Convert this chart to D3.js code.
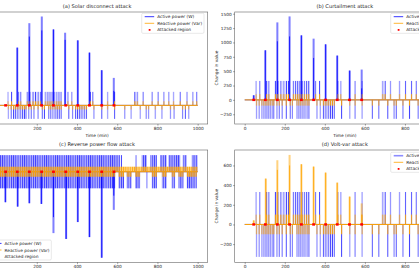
<!DOCTYPE html>
<html>
<head>
<meta charset="utf-8">
<script src="https://cdn.jsdelivr.net/npm/d3@7"></script>
<style>
html, body { margin: 0; padding: 0; background: #fff; overflow: hidden; }
svg { display: block; font-family: "DejaVu Sans", sans-serif; }
</style>
</head>
<body>
<svg id="chart" width="419" height="268"></svg>
<script>
const xTicks = [0, 200, 400, 600, 800, 1000];
const yTicksB = [-250, 0, 250, 500, 750, 1000, 1250, 1500];
const yTicksD = [-200, 0, 200, 400, 600];
const attackTimes = [45, 103, 163, 224, 283, 344, 404, 462, 523, 584];

const activeLevel = 330;
const reactiveLevel = 100;

// active power on/off pulses shared by panels a, b, d  [start, end] in min
const activeUp = [[55,60],[72,78],[107,113],[118,124],[150,158],[163,170],[176,184],[190,198],[204,212],[216,222],
  [240,247],[251,258],[262,269],[273,280],[284,291],[295,302],[306,313],[317,324],[351,357],[371,377],[463,469],
  [476,482],[549,555],[584,590],[685,692],[697,704],[725,731],[770,776],[800,806],[830,836],[853,859],[877,883],
  [910,916],[943,949],[973,979],[993,999]];
const activeDown = [[56,62],[69,75],[82,88],[91,97],[100,106],[109,115],[118,124],[127,133],[136,142],[143,149],
  [157,163],[169,175],[184,190],[204,210],[224,230],[235,241],[257,263],[266,272],[275,281],[284,290],[293,299],
  [302,308],[311,317],[319,325],[357,363],[375,381],[390,396],[399,405],[408,414],[417,423],[426,432],[435,441],
  [444,450],[481,487],[521,527],[549,555],[584,590],[634,640],[667,673],[712,718],[742,748],[753,759],[787,793],
  [820,826],[862,868],[879,885],[922,928],[936,942],[952,958]];

// reverse power flow panel (c) - dense activity
const cActiveUp = [[0,614],[618,624],[690,696],[722,747],[764,797],[813,846],[855,913],[926,946],[971,1000]];
const cActiveDown = [[0,590],[606,634],[647,672],[689,714],[744,750],[772,797],[822,846],[871,888],[905,930],[946,996]];
const cReactiveUp = [[0,1000]];
const cReactiveDown = [[0,590],[606,634],[647,672],[689,714],[772,797],[822,846],[871,888],[905,930],[946,996]];

// attack spikes [time, peak, inner level]
const spikesA = [[103,1410,1410],[163,2007,1680],[225,2170,1830],[283,1854,1854],[341,1774,1600],
  [404,1587,1587],[462,1288,1288],[523,858,858],[583,671,355]];
const spikesB = [[45,80,80],[103,863,863],[163,1349,1020],[224,1453,1105],[283,1123,1123],[344,1066,730],
  [404,967,967],[462,771,771],[524,510,510],[584,528,200]];
const spikesC = [[44,-606,-606],[105,-693,-693],[163,-626,-626],[223,-640,-640],[283,-1220,-903],
  [346,-1336,-1336],[404,-1000,-1000],[462,-1299,-1299],[523,-1709,-1709],[583,-758,-475]];
const spikesD = [[45,41,41],[105,466,466],[163,653,555],[224,707,600],[283,612,612],[344,588,588],
  [404,527,527],[462,425,425],[524,283,283],[584,214,100]];

const legendLabels = ['Active power (W)', 'Reactive power (Var)', 'Attacked region'];

const BLUE = '#0000ff';
const ORANGE = '#ffa500';
const svg = d3.select('#chart');
const defs = svg.append('defs');

function stripes(id, color, dark, light) {
    const p = defs.append('pattern').attr('id', id)
        .attr('width', 2.2).attr('height', 4).attr('patternUnits', 'userSpaceOnUse');
    p.append('rect').attr('width', 2.2).attr('height', 4).attr('fill', color).attr('fill-opacity', light);
    p.append('rect').attr('width', 0.9).attr('height', 4).attr('fill', color).attr('fill-opacity', dark);
}
stripes('sBlue', BLUE, 0.68, 0.3);
stripes('sOrange', ORANGE, 0.9, 0.5);

const panels = [
    { id: 'a', title: '(a) Solar disconnect attack', left: -13.5, right: 207.7, top: 12, bottom: 124,
      yDomain: [-455, 2280], spikes: spikesA, spikeColor: BLUE, up: activeUp, down: activeDown,
      rUp: activeUp, rDown: activeDown, xlabel: true, legend: [141.7, 13.3] },
    { id: 'b', title: '(b) Curtailment attack', left: 234.7, right: 455, top: 12, bottom: 124,
      yDomain: [-420, 1530], spikes: spikesB, spikeColor: BLUE, up: activeUp, down: activeDown,
      rUp: activeUp, rDown: activeDown, xlabel: true, yTicks: yTicksB, legend: [390.7, 13.3] },
    { id: 'c', title: '(c) Reverse power flow attack', left: -13.5, right: 207.7, top: 150, bottom: 262.3,
      yDomain: [-1800, 432], spikes: spikesC, spikeColor: BLUE, up: cActiveUp, down: cActiveDown,
      rUp: cReactiveUp, rDown: cReactiveDown, xlabel: false, legend: [-11, 240] },
    { id: 'd', title: '(d) Volt-var attack', left: 234.7, right: 455, top: 150, bottom: 262.3,
      yDomain: [-385, 757], spikes: spikesD, spikeColor: ORANGE, up: activeUp, down: activeDown,
      rUp: activeUp, rDown: activeDown, xlabel: false, yTicks: yTicksD, legend: [390.7, 152.3], lightHandle: true }
];

panels.forEach(drawPanel);

function drawPanel(p) {
    const x = d3.scaleLinear().domain([-50, 1050]).range([p.left, p.right]);
    const y = d3.scaleLinear().domain(p.yDomain).range([p.bottom, p.top]);
    const g = svg.append('g');

    defs.append('clipPath').attr('id', 'clip' + p.id)
        .append('rect').attr('x', p.left).attr('y', p.top)
        .attr('width', p.right - p.left).attr('height', p.bottom - p.top);
    const plot = g.append('g').attr('clip-path', `url(#clip${p.id})`);

    const pulses = (list, level, fill) => {
        plot.append('g').selectAll('rect')
            .data(list)
            .enter()
            .append('rect')
            .attr('x', d => x(d[0]))
            .attr('width', d => Math.max(0.9, x(d[1]) - x(d[0])))
            .attr('y', d => Math.min(y(level), y(0)))
            .attr('height', Math.abs(y(level) - y(0)))
            .attr('fill', fill);
    };

    // active power
    pulses(p.up, activeLevel, 'url(#sBlue)');
    pulses(p.down, -activeLevel, 'url(#sBlue)');
    plot.append('line').attr('x1', x(0)).attr('x2', x(1000)).attr('y1', y(0)).attr('y2', y(0))
        .attr('stroke', BLUE).attr('stroke-width', 0.7);
    if (p.spikeColor === BLUE) drawSpikes(plot, p.spikes, x, y, BLUE);

    // reactive power
    pulses(p.rUp, reactiveLevel, 'url(#sOrange)');
    pulses(p.rDown, -reactiveLevel, 'url(#sOrange)');
    plot.append('line').attr('x1', x(0)).attr('x2', x(1000)).attr('y1', y(0)).attr('y2', y(0))
        .attr('stroke', ORANGE).attr('stroke-width', 1);
    if (p.spikeColor === ORANGE) drawSpikes(plot, p.spikes, x, y, ORANGE);

    // attacked region markers
    plot.append('g').selectAll('rect')
        .data(attackTimes)
        .enter()
        .append('rect')
        .attr('x', d => x(d) - 1.4)
        .attr('y', y(0) - 1.2)
        .attr('width', 2.8)
        .attr('height', 2.4)
        .attr('fill', 'red');

    // spines
    g.append('rect').attr('x', p.left).attr('y', p.top)
        .attr('width', p.right - p.left).attr('height', p.bottom - p.top)
        .attr('fill', 'none').attr('stroke', '#666').attr('stroke-width', 0.6);

    const xAxis = g.append('g').attr('transform', `translate(0,${p.bottom})`)
        .call(d3.axisBottom(x).tickValues(xTicks).tickSize(1.6).tickPadding(1.3).tickFormat(d3.format('d')));
    styleAxis(xAxis);

    if (p.yTicks) {
        const yAxis = g.append('g').attr('transform', `translate(${p.left},0)`)
            .call(d3.axisLeft(y).tickValues(p.yTicks).tickSize(1.6).tickPadding(1.3)
                .tickFormat(d => d < 0 ? '\u2212' + Math.abs(d) : d));
        styleAxis(yAxis);
        g.append('text')
            .attr('transform', `translate(216.5,${(p.top + p.bottom) / 2}) rotate(-90)`)
            .attr('text-anchor', 'middle')
            .attr('dy', '0.35em')
            .attr('font-size', 4.3)
            .attr('fill', '#222')
            .text('Change in value');
    }

    g.append('text')
        .attr('x', (p.left + p.right) / 2)
        .attr('y', p.top - 6)
        .attr('dy', '0.35em')
        .attr('text-anchor', 'middle')
        .attr('font-size', 5.1)
        .attr('fill', '#222')
        .text(p.title);

    if (p.xlabel) {
        g.append('text')
            .attr('x', (p.left + p.right) / 2)
            .attr('y', p.bottom + 11.6)
            .attr('dy', '0.35em')
            .attr('text-anchor', 'middle')
            .attr('font-size', 4.3)
            .attr('fill', '#222')
            .text('Time (min)');
    }

    drawLegend(g, p.legend[0], p.legend[1], p.lightHandle);
}

function drawSpikes(plot, spikes, x, y, color) {
    const s = plot.append('g').selectAll('g')
        .data(spikes)
        .enter()
        .append('g');
    s.append('rect')
        .attr('x', d => x(d[0] - 5))
        .attr('width', d => x(d[0] + 5) - x(d[0] - 5))
        .attr('y', d => Math.min(y(d[1]), y(0)))
        .attr('height', d => Math.abs(y(d[1]) - y(0)))
        .attr('fill', color)
        .attr('fill-opacity', 0.5);
    s.append('line')
        .attr('x1', d => x(d[0])).attr('x2', d => x(d[0]))
        .attr('y1', y(0)).attr('y2', d => y(d[2]))
        .attr('stroke', color)
        .attr('stroke-width', 0.8);
}

function drawLegend(g, lx, ly, lightHandle) {
    const w = 62.3, h = 20;
    const lg = g.append('g');
    lg.append('rect').attr('x', lx).attr('y', ly).attr('width', w).attr('height', h)
        .attr('rx', 1.2).attr('fill', '#fff').attr('fill-opacity', 0.85)
        .attr('stroke', '#d0d0d0').attr('stroke-width', 0.5);
    const rows = [ly + 3.4, ly + 10, ly + 16.6];
    lg.append('line').attr('x1', lx + 3).attr('x2', lx + 12.5).attr('y1', rows[0]).attr('y2', rows[0])
        .attr('stroke', BLUE).attr('stroke-opacity', lightHandle ? 0.45 : 1)
        .attr('stroke-width', lightHandle ? 1.6 : 0.8);
    lg.append('line').attr('x1', lx + 3).attr('x2', lx + 12.5).attr('y1', rows[1]).attr('y2', rows[1])
        .attr('stroke', ORANGE).attr('stroke-width', 0.8);
    lg.append('rect').attr('x', lx + 7).attr('y', rows[2] - 0.9).attr('width', 1.8).attr('height', 1.8)
        .attr('fill', 'red');
    lg.selectAll('text')
        .data(legendLabels)
        .enter()
        .append('text')
        .attr('x', lx + 15.5)
        .attr('y', (d, i) => rows[i])
        .attr('dy', '0.35em')
        .attr('font-size', 4.3)
        .attr('fill', '#222')
        .text(d => d);
}

function styleAxis(ax) {
    ax.select('.domain').remove();
    ax.selectAll('.tick line').attr('stroke', '#444').attr('stroke-width', 0.5);
    ax.selectAll('.tick text').attr('font-size', 4.3).attr('fill', '#222')
        .attr('font-family', '"DejaVu Sans", sans-serif');
}
</script>
</body>
</html>
